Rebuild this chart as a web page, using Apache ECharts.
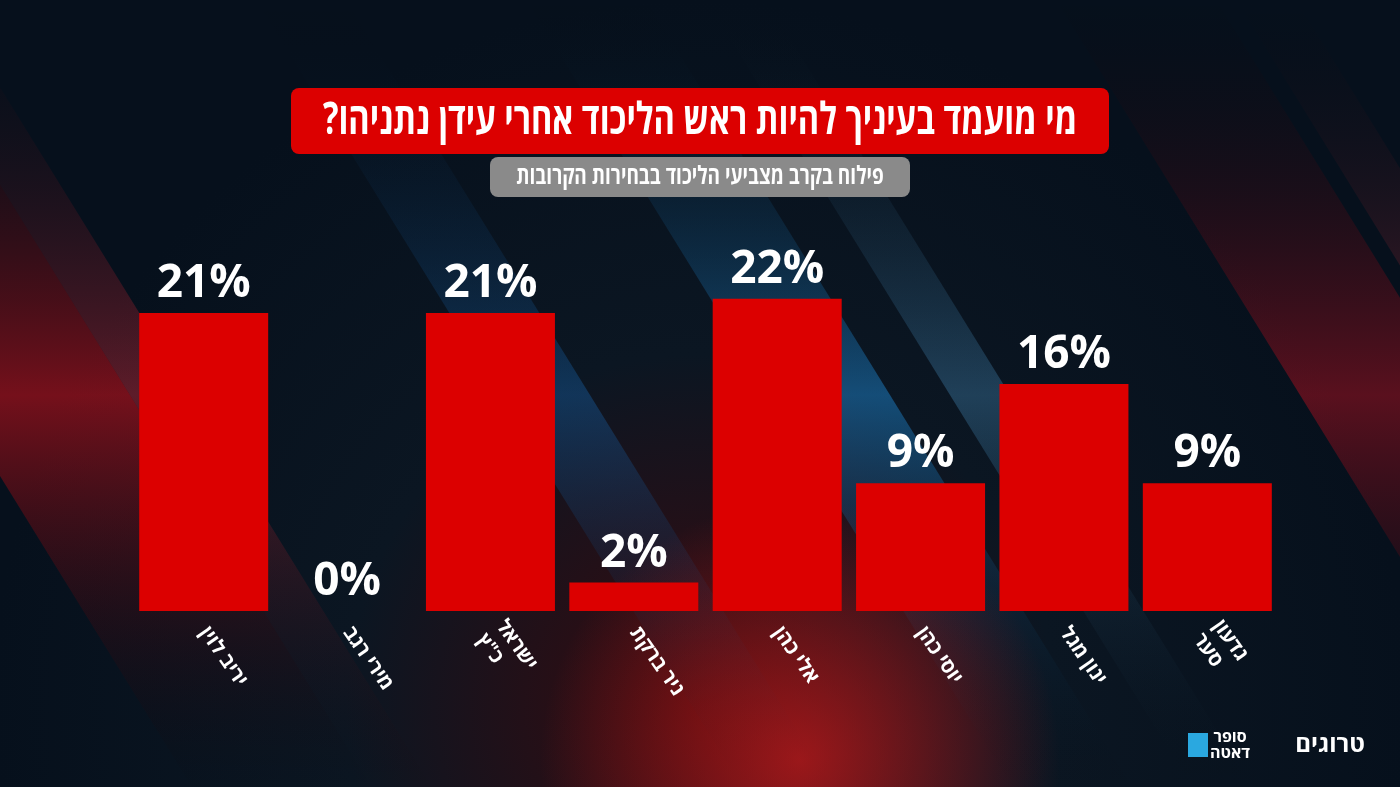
<!DOCTYPE html>
<html><head><meta charset="utf-8">
<script src="https://cdn.jsdelivr.net/npm/echarts@6/dist/echarts.min.js"></script>
<style>html,body{margin:0;padding:0;background:#050b14}#c{width:1400px;height:787px}</style>
</head><body><div id="c"></div>
<script>
const categories = ['יריב לוין','מירי רגב','ישראל\nכ"ץ','ניר ברקת','אלי כהן','יוסי כהן','ינון מגל','גדעון\nסער'];
const values = [21,0,21,2,22,9,16,9];
const title = 'מי מועמד בעיניך להיות ראש הליכוד אחרי עידן נתניהו?\u200F';
const subtitle = 'פילוח בקרב מצביעי הליכוד בבחירות הקרובות';
const chart = echarts.init(document.getElementById('c'));
const F = '"Open Sans","Noto Sans",sans-serif';
function streak(x, w, color, op){
  return {type:'polygon', silent:true, shape:{points:[[x,-10],[x+w,-10],[x+w+500,800],[x+500,800]]},
    style:{fill:{type:'linear',x:0,y:0,x2:0,y2:1,colorStops:[{offset:0,color:'rgba(0,0,0,0)'},{offset:0.5,color:color},{offset:1,color:'rgba(0,0,0,0)'}]},opacity:op}};
}
chart.setOption({
  backgroundColor:{type:'radial',x:0.5,y:0.9,r:0.9,colorStops:[{offset:0,color:'#3a0a0e'},{offset:0.5,color:'#0b1622'},{offset:1,color:'#06101c'}]},
  graphic:[
    streak(-300,180,'#d0101a',0.55),
    streak(-120,60,'#ff3040',0.35),
    streak(250,90,'#1a6fc0',0.35),
    streak(520,120,'#2090e0',0.45),
    streak(700,60,'#60c0ff',0.25),
    streak(1050,160,'#c01020',0.45),
    streak(1230,60,'#ff4050',0.3),
    {type:'circle',silent:true,shape:{cx:800,cy:760,r:260},style:{fill:{type:'radial',x:0.5,y:0.5,r:0.5,colorStops:[{offset:0,color:'rgba(230,30,30,0.6)'},{offset:1,color:'rgba(230,30,30,0)'}]}}},
    {type:'rect',shape:{x:291,y:88,width:818,height:66,r:8},style:{fill:'#dc0000'}},
    {type:'text',x:700,y:121,scaleX:0.74,style:{x:0,y:0,text:title,fill:'#fff',font:'bold 44px '+F,align:'center',verticalAlign:'middle'}},
    {type:'rect',shape:{x:490,y:157,width:420,height:40,r:8},style:{fill:'#8a8a8a'}},
    {type:'text',x:700,y:177,scaleX:0.76,style:{x:0,y:0,text:subtitle,fill:'#fff',font:'bold 25px '+F,align:'center',verticalAlign:'middle'}},
    {type:'text',style:{x:1230,y:745,text:'סופר\nדאטה',fill:'#fff',font:'bold 16px '+F,align:'center',verticalAlign:'middle',lineHeight:16}},
    {type:'rect',shape:{x:1188,y:733,width:20,height:24},style:{fill:'#2aa8e0'}},
    {type:'text',style:{x:1330,y:745,text:'טרוגים',fill:'#fff',font:'bold 24px '+F,align:'center',verticalAlign:'middle'}}
  ],
  grid:{left:132,right:121,top:100,bottom:176},
  xAxis:{type:'category',data:categories,axisLine:{show:false},axisTick:{show:false},
    axisLabel:{color:'#fff',fontFamily:F,fontSize:20,fontWeight:'bold',rotate:-55,margin:18,lineHeight:24}},
  yAxis:{type:'value',min:0,max:36,show:false,splitLine:{show:false}},
  series:[{type:'bar',data:values,barWidth:129,itemStyle:{color:'#dc0000'},
    label:{show:true,position:'top',formatter:'{c}%',color:'#fff',fontFamily:F,fontWeight:'bold',fontSize:46,distance:6}}]
});
</script></body></html>
